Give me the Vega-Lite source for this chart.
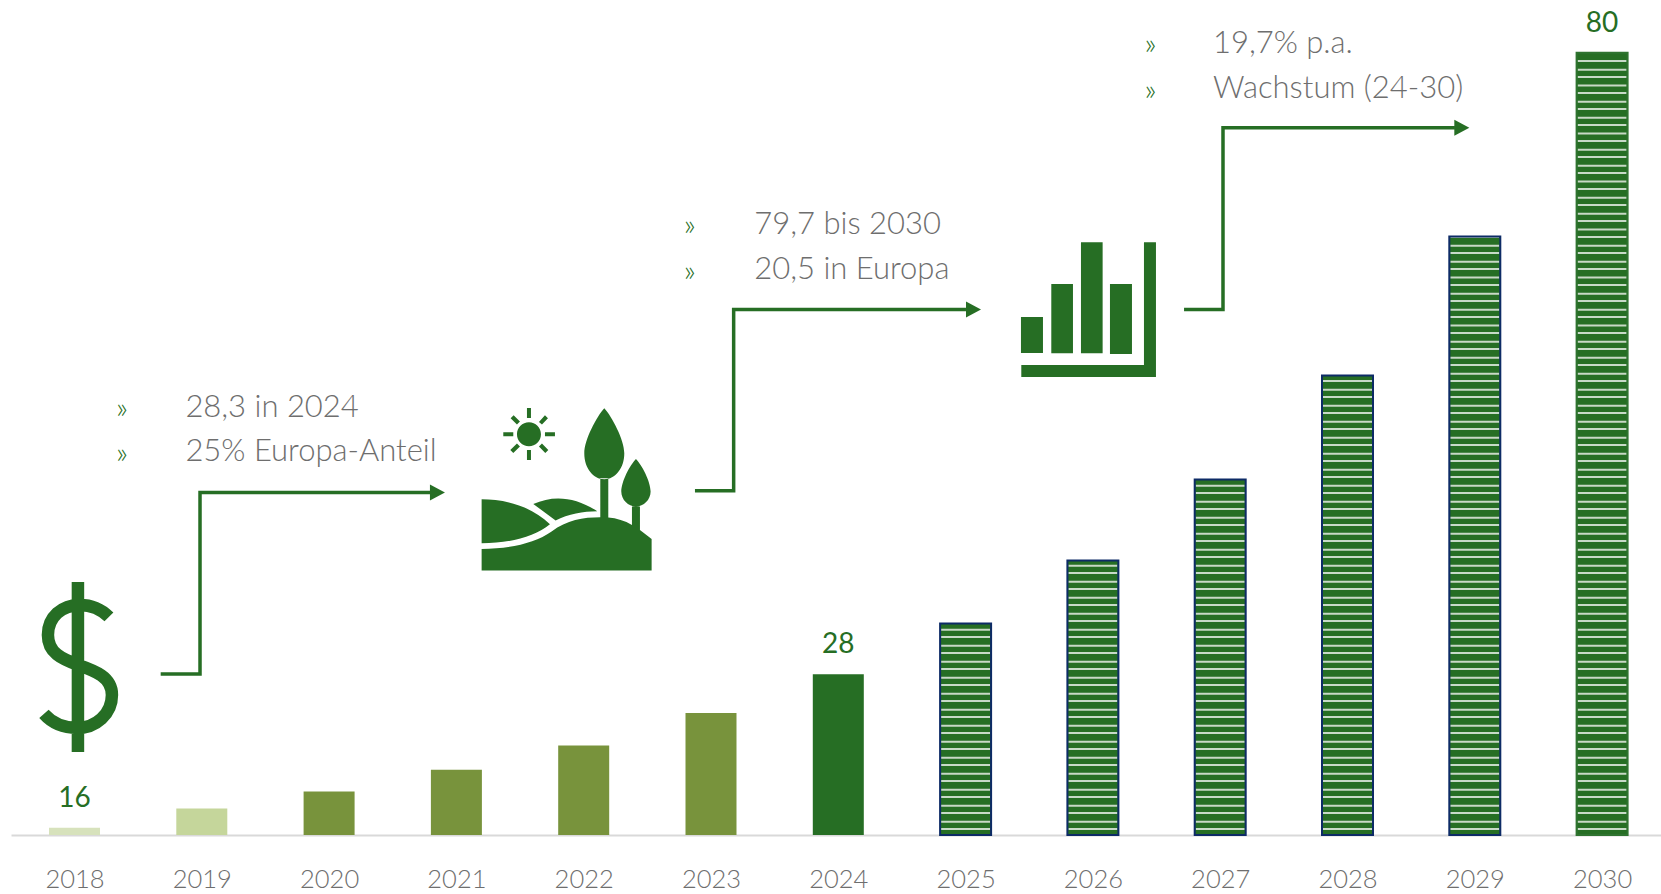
{"$schema":"https://vega.github.io/schema/vega-lite/v6.json","width":1650,"height":835,"padding":{"left":11,"top":0,"right":0,"bottom":59},"autosize":{"type":"none"},"background":"white","view":{"stroke":null},
"datasets":{
"bars":[{"year":2018,"value":15.6,"label":"16"},{"year":2019,"value":17.2},{"year":2020,"value":18.6},{"year":2021,"value":20.4},{"year":2022,"value":22.4},{"year":2023,"value":25.1},{"year":2024,"value":28.3,"label":"28"},{"year":2025,"value":32.5},{"year":2026,"value":37.7},{"year":2027,"value":44.4},{"year":2028,"value":53},{"year":2029,"value":64.5},{"year":2030,"value":79.7,"label":"80"}],
"stripesWhite":[{"v":79.02,"b":[2030]},{"v":77.70,"b":[2030]},{"v":76.37,"b":[2030]},{"v":75.05,"b":[2030]},{"v":73.73,"b":[2030]},{"v":72.40,"b":[2030]},{"v":71.08,"b":[2030]},{"v":69.76,"b":[2030]},{"v":68.43,"b":[2030]},{"v":67.11,"b":[2030]},{"v":65.79,"b":[2030]},
{"v":64.46,"b":[2029,2030]},{"v":63.14,"b":[2029,2030]},{"v":61.82,"b":[2029,2030]},{"v":60.49,"b":[2029,2030]},{"v":59.17,"b":[2029,2030]},{"v":57.85,"b":[2029,2030]},{"v":56.52,"b":[2029,2030]},{"v":55.20,"b":[2029,2030]},{"v":53.87,"b":[2029,2030]},
{"v":52.55,"b":[2028,2029,2030]},{"v":51.23,"b":[2028,2029,2030]},{"v":49.90,"b":[2028,2029,2030]},{"v":48.58,"b":[2028,2029,2030]},{"v":47.26,"b":[2028,2029,2030]},{"v":45.93,"b":[2028,2029,2030]},{"v":44.61,"b":[2028,2029,2030]},
{"v":43.29,"b":[2027,2028,2029,2030]},{"v":41.96,"b":[2027,2028,2029,2030]},{"v":40.64,"b":[2027,2028,2029,2030]},{"v":39.32,"b":[2027,2028,2029,2030]},{"v":37.99,"b":[2027,2028,2029,2030]},
{"v":36.67,"b":[2026,2027,2028,2029,2030]},{"v":35.35,"b":[2026,2027,2028,2029,2030]},{"v":34.02,"b":[2026,2027,2028,2029,2030]},{"v":32.70,"b":[2026,2027,2028,2029,2030]},
{"v":31.38,"b":[2025,2026,2027,2028,2029,2030]},{"v":30.05,"b":[2025,2026,2027,2028,2029,2030]},{"v":28.73,"b":[2025,2026,2027,2028,2029,2030]},{"v":27.41,"b":[2025,2026,2027,2028,2029,2030]},{"v":26.08,"b":[2025,2026,2027,2028,2029,2030]},{"v":24.76,"b":[2025,2026,2027,2028,2029,2030]},{"v":23.44,"b":[2025,2026,2027,2028,2029,2030]},{"v":22.11,"b":[2025,2026,2027,2028,2029,2030]},{"v":20.79,"b":[2025,2026,2027,2028,2029,2030]},{"v":19.47,"b":[2025,2026,2027,2028,2029,2030]},{"v":18.14,"b":[2025,2026,2027,2028,2029,2030]},{"v":16.82,"b":[2025,2026,2027,2028,2029,2030]},{"v":15.50,"b":[2025,2026,2027,2028,2029,2030]}],
"stripesPale":[{"v":78.30,"b":[2030]},{"v":76.98,"b":[2030]},{"v":75.65,"b":[2030]},{"v":74.33,"b":[2030]},{"v":73.01,"b":[2030]},{"v":71.68,"b":[2030]},{"v":70.36,"b":[2030]},{"v":69.04,"b":[2030]},{"v":67.71,"b":[2030]},{"v":66.39,"b":[2030]},{"v":65.07,"b":[2030]},
{"v":63.74,"b":[2029,2030]},{"v":62.42,"b":[2029,2030]},{"v":61.10,"b":[2029,2030]},{"v":59.77,"b":[2029,2030]},{"v":58.45,"b":[2029,2030]},{"v":57.13,"b":[2029,2030]},{"v":55.80,"b":[2029,2030]},{"v":54.48,"b":[2029,2030]},{"v":53.15,"b":[2029,2030]},
{"v":51.83,"b":[2028,2029,2030]},{"v":50.51,"b":[2028,2029,2030]},{"v":49.18,"b":[2028,2029,2030]},{"v":47.86,"b":[2028,2029,2030]},{"v":46.54,"b":[2028,2029,2030]},{"v":45.21,"b":[2028,2029,2030]},
{"v":43.89,"b":[2027,2028,2029,2030]},{"v":42.57,"b":[2027,2028,2029,2030]},{"v":41.24,"b":[2027,2028,2029,2030]},{"v":39.92,"b":[2027,2028,2029,2030]},{"v":38.60,"b":[2027,2028,2029,2030]},
{"v":37.27,"b":[2026,2027,2028,2029,2030]},{"v":35.95,"b":[2026,2027,2028,2029,2030]},{"v":34.63,"b":[2026,2027,2028,2029,2030]},{"v":33.30,"b":[2026,2027,2028,2029,2030]},
{"v":31.98,"b":[2025,2026,2027,2028,2029,2030]},{"v":30.66,"b":[2025,2026,2027,2028,2029,2030]},{"v":29.33,"b":[2025,2026,2027,2028,2029,2030]},{"v":28.01,"b":[2025,2026,2027,2028,2029,2030]},{"v":26.69,"b":[2025,2026,2027,2028,2029,2030]},{"v":25.36,"b":[2025,2026,2027,2028,2029,2030]},{"v":24.04,"b":[2025,2026,2027,2028,2029,2030]},{"v":22.72,"b":[2025,2026,2027,2028,2029,2030]},{"v":21.39,"b":[2025,2026,2027,2028,2029,2030]},{"v":20.07,"b":[2025,2026,2027,2028,2029,2030]},{"v":18.75,"b":[2025,2026,2027,2028,2029,2030]},{"v":17.42,"b":[2025,2026,2027,2028,2029,2030]},{"v":16.10,"b":[2025,2026,2027,2028,2029,2030]}],
"arrows":[{"id":"a","o":1,"x":2018.677,"y":28.32},{"id":"a","o":2,"x":2018.986,"y":28.32},{"id":"a","o":3,"x":2018.986,"y":43.32},{"id":"a","o":4,"x":2020.793,"y":43.32},{"id":"b","o":1,"x":2022.874,"y":43.48},{"id":"b","o":2,"x":2023.178,"y":43.48},{"id":"b","o":3,"x":2023.178,"y":58.47},{"id":"b","o":4,"x":2025.003,"y":58.47},{"id":"c","o":1,"x":2026.716,"y":58.47},{"id":"c","o":2,"x":2027.022,"y":58.47},{"id":"c","o":3,"x":2027.022,"y":73.49},{"id":"c","o":4,"x":2028.844,"y":73.49}],
"heads":[{"x":2020.91,"y":43.32},{"x":2025.121,"y":58.47},{"x":2028.957,"y":73.49}],
"notes":[{"t":"28,3 in 2024","x":2018.871,"y":50.48},{"t":"25% Europa-Anteil","x":2018.871,"y":46.76},{"t":"79,7 bis 2030","x":2023.34,"y":65.58},{"t":"20,5 in Europa","x":2023.34,"y":61.82},{"t":"19,7% p.a.","x":2026.943,"y":80.56},{"t":"Wachstum (24-30)","x":2026.943,"y":76.79}],
"bullets":[{"t":"»","x":2018.373,"y":50.48},{"t":"»","x":2018.373,"y":46.76},{"t":"»","x":2022.833,"y":65.58},{"t":"»","x":2022.833,"y":61.82},{"t":"»","x":2026.452,"y":80.56},{"t":"»","x":2026.452,"y":76.79}]
},
"layer":[
{"data":{"name":"bars"},"mark":{"type":"bar","width":51},"encoding":{
"x":{"field":"year","type":"quantitative","scale":{"domain":[2017.5012,2030.4627],"nice":false,"zero":false,"padding":0},"axis":{"values":[2018,2019,2020,2021,2022,2023,2024,2025,2026,2027,2028,2029,2030],"format":"d","title":null,"grid":false,"ticks":false,"domainColor":"#d9d9d9","domainWidth":2,"labelFont":"Lato","labelFontWeight":300,"labelFontSize":25.5,"labelColor":"#6e6e6e","labelPadding":32,"labelOverlap":false,"labelFlush":false}},
"y":{"field":"value","type":"quantitative","scale":{"domain":[15,84.06],"nice":false,"zero":false,"padding":0},"axis":null},
"y2":{"datum":15},
"fill":{"field":"year","type":"nominal","legend":null,"scale":{"domain":[2018,2019,2020,2021,2022,2023,2024,2025,2026,2027,2028,2029,2030],"range":["#d7e2bc","#c5d69b","#78933c","#78933c","#78933c","#78933c","#266e24","#266e24","#266e24","#266e24","#266e24","#266e24","#266e24"]}}}},
{"data":{"name":"stripesPale"},"transform":[{"flatten":["b"]}],"mark":{"type":"tick","orient":"horizontal","size":49,"thickness":2,"color":"#c8d8c6","opacity":1},"encoding":{"x":{"field":"b","type":"quantitative"},"y":{"field":"v","type":"quantitative"}}},
{"data":{"name":"stripesWhite"},"transform":[{"flatten":["b"]}],"mark":{"type":"tick","orient":"horizontal","size":49,"thickness":1.5,"color":"#ffffff","opacity":1},"encoding":{"x":{"field":"b","type":"quantitative"},"y":{"field":"v","type":"quantitative"}}},
{"data":{"name":"bars"},"transform":[{"filter":"datum.year >= 2025"}],"mark":{"type":"bar","width":51,"fill":"transparent","strokeWidth":2},"encoding":{"x":{"field":"year","type":"quantitative"},"y":{"field":"value","type":"quantitative"},"y2":{"datum":15},"stroke":{"field":"year","type":"nominal","legend":null,"scale":{"domain":[2025,2026,2027,2028,2029,2030],"range":["#0d2b66","#0d2b66","#0d2b66","#0d2b66","#0d2b66","#2f7330"]}}}},
{"data":{"name":"bars"},"transform":[{"filter":"datum.label"}],"mark":{"type":"text","font":"Lato","fontSize":28,"color":"#266e24","baseline":"middle","dy":-29},"encoding":{"x":{"field":"year","type":"quantitative"},"y":{"field":"value","type":"quantitative"},"text":{"field":"label"}}},
{"data":{"name":"arrows"},"mark":{"type":"line","color":"#266e24","strokeWidth":3.5,"strokeJoin":"miter","strokeCap":"butt"},"encoding":{"x":{"field":"x","type":"quantitative"},"y":{"field":"y","type":"quantitative"},"detail":{"field":"id"},"order":{"field":"o"}}},
{"data":{"name":"heads"},"mark":{"type":"point","shape":"M-15,-8 L0,0 L-15,8 Z","size":4,"filled":true,"color":"#266e24","opacity":1},"encoding":{"x":{"field":"x","type":"quantitative"},"y":{"field":"y","type":"quantitative"}}},
{"data":{"name":"notes"},"mark":{"type":"text","font":"Lato","fontWeight":300,"fontSize":31,"color":"#6e6e6e","align":"left","baseline":"middle","dy":1.5},"encoding":{"x":{"field":"x","type":"quantitative"},"y":{"field":"y","type":"quantitative"},"text":{"field":"t"}}},
{"data":{"name":"bullets"},"mark":{"type":"text","font":"Lato","fontWeight":300,"fontSize":30,"color":"#266e24","align":"center","baseline":"middle","dy":3},"encoding":{"x":{"field":"x","type":"quantitative"},"y":{"field":"y","type":"quantitative"},"text":{"field":"t"}}},
{"data":{"values":[{"icon":"dollar","x":2018.027,"y":28.9}]},"mark":{"type":"point","shape":"M31,-50 C23,-58 13,-62 2,-62 C-16,-62 -30,-50 -30,-32 C-30,-14 -16,-8 0,-2 C17,4 34,10 34,28 C34,47 18,61 -1,61 C-14,61 -26,56 -34,47 M0,-85 L0,85","size":4,"filled":false,"stroke":"#266e24","strokeWidth":12.5,"opacity":1},"encoding":{"x":{"field":"x","type":"quantitative"},"y":{"field":"y","type":"quantitative"}}},
{"data":{"values":[{"icon":"landscape","x":2021.028,"y":51.81}]},"mark":{"type":"point","shape":"M65,328 C130,328 210,345 270,403 C225,440 150,460 65,460 Z M220,342 C280,315 345,320 412,364 C370,364 325,372 287,392 Z M65,477 C150,477 225,460 275,425 C320,390 370,382 421,382 L421,265 L445,265 L445,383 C470,385 495,393 516,405 L516,350 L540,350 L540,420 L575,447 L575,542 L65,542 Z M433,55 C410,80 373,150 373,190 C373,235 400,268 433,268 C466,268 493,235 493,190 C493,150 456,80 433,55 Z M528,207 C510,225 484,275 484,305 C484,330 505,350 528,350 C551,350 572,330 572,305 C572,275 546,225 528,207 Z M171,133 A36,36 0 1 0 243,133 A36,36 0 1 0 171,133 Z M201,54 L213,54 L213,84 L201,84 Z M201,180 L213,180 L213,210 L201,210 Z M130,127 L160,127 L160,139 L130,139 Z M255,127 L285,127 L285,139 L255,139 Z M237,96 L255,76 L264,85 L246,104 Z M152,85 L161,76 L180,95 L171,104 Z M151,180 L171,161 L180,170 L160,189 Z M237,170 L246,161 L265,180 L256,189 Z","size":0.4444,"filled":true,"color":"#266e24","opacity":1},"encoding":{"x":{"field":"x","type":"quantitative"},"y":{"field":"y","type":"quantitative"}}},
{"data":{"values":[{"icon":"bars","x":2025.27,"y":65.87}]},"mark":{"type":"point","shape":"M63,291 L129,291 L129,399 L63,399 Z M154,192 L219,192 L219,400 L154,400 Z M243,67 L308,67 L308,400 L243,400 Z M330,192 L396,192 L396,402 L330,402 Z M64,435 L432,435 L432,67 L468,67 L468,471 L64,471 Z","size":0.4444,"filled":true,"color":"#266e24","opacity":1},"encoding":{"x":{"field":"x","type":"quantitative"},"y":{"field":"y","type":"quantitative"}}}
]}
